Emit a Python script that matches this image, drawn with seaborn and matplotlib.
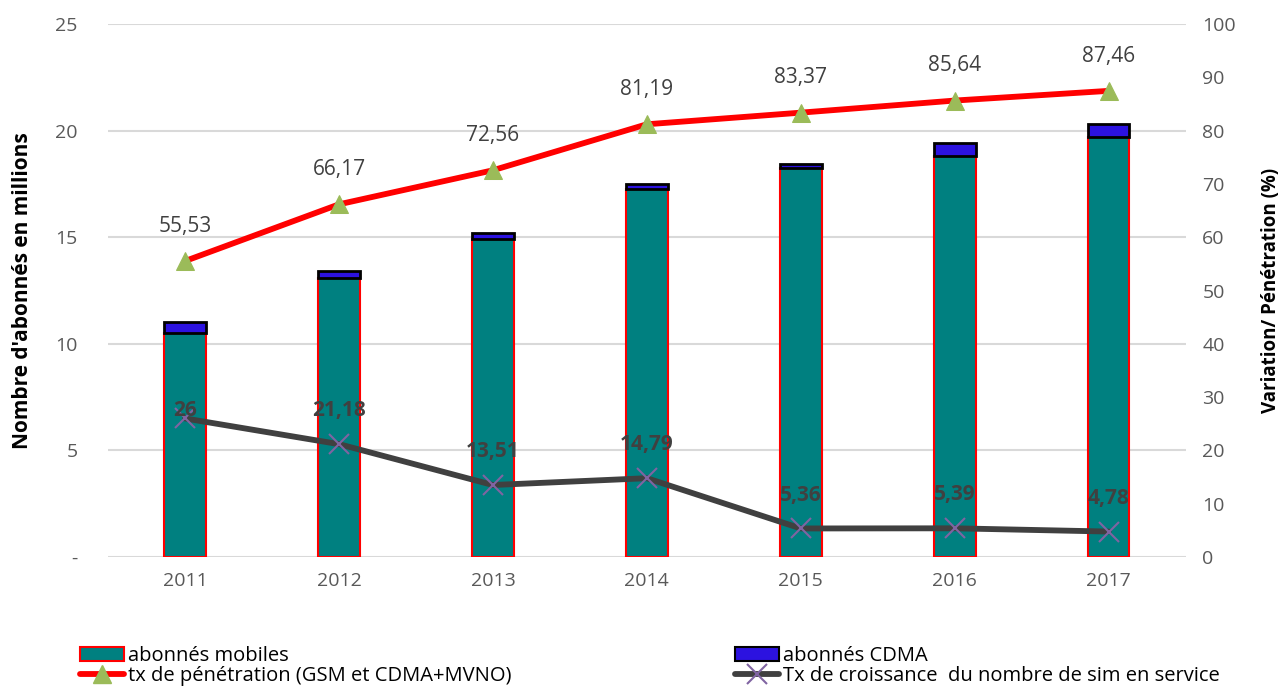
import numpy as np
import pandas as pd
import matplotlib
matplotlib.use("Agg")
import matplotlib.pyplot as plt
import seaborn as sns
from matplotlib.patches import Patch
from matplotlib.lines import Line2D

# données
annees = ['2011', '2012', '2013', '2014', '2015', '2016', '2017']
abonnes_mobiles = [10.50, 13.10, 14.92, 17.26, 18.23, 18.81, 19.71]
abonnes_cdma = [0.54, 0.31, 0.29, 0.24, 0.20, 0.62, 0.60]
tx_penetration = [55.53, 66.17, 72.56, 81.19, 83.37, 85.64, 87.46]
tx_croissance = [26, 21.18, 13.51, 14.79, 5.36, 5.39, 4.78]

sns.set_theme(style="white")
plt.rcParams['font.family'] = ['Open Sans', 'DejaVu Sans']

df = pd.DataFrame({'annee': annees, 'mobiles': abonnes_mobiles, 'cdma': abonnes_cdma})

fig = plt.figure(figsize=(12.79, 6.86), dpi=100)
ax = fig.add_axes([0.0845, 0.188, 0.8425, 0.777])

# barres empilées
sns.barplot(data=df, x='annee', y='mobiles', color='#008080', edgecolor='#ff0000',
            linewidth=1.5, width=0.27, saturation=1, ax=ax, zorder=2)
pos = np.arange(len(annees))
ax.bar(pos, df['cdma'], bottom=df['mobiles'], width=0.27, color='#2c12e0',
       edgecolor='black', linewidth=2, zorder=2)

ax.set_ylim(0, 25)
ax.set_xlim(-0.5, len(annees) - 0.5)
ax.set_yticks([0, 5, 10, 15, 20, 25])
ax.set_yticklabels(['-', '5', '10', '15', '20', '25'])
ax.yaxis.grid(True, color='#d9d9d9', linewidth=1.5, zorder=0)
ax.set_axisbelow(True)
for s in ax.spines.values():
    s.set_visible(False)
ax.tick_params(axis='both', length=0, labelsize=14, labelcolor='#595959')
ax.tick_params(axis='x', pad=11)
ax.tick_params(axis='y', pad=22)
ax.set_xlabel('')
ax.set_ylabel("Nombre d'abonnés en millions", fontsize=15, fontweight='bold',
              color='black', labelpad=16)

# courbes sur l'axe secondaire
ax2 = ax.twinx()
sns.lineplot(x=pos, y=tx_penetration, ax=ax2, color='#ff0000', linewidth=4.2,
             marker='^', markersize=13, markerfacecolor='#9bbb59',
             markeredgecolor='#9bbb59')
sns.lineplot(x=pos, y=tx_croissance, ax=ax2, color='#404040', linewidth=4.2,
             marker='x', markersize=14, markeredgecolor='#8064a2',
             markeredgewidth=1.5)
ax2.set_ylim(0, 100)
ax2.set_yticks(range(0, 101, 10))
for s in ax2.spines.values():
    s.set_visible(False)
ax2.tick_params(axis='y', length=0, labelsize=14, labelcolor='#595959', pad=12)
ax2.set_ylabel('Variation/ Pénétration (%)', fontsize=13.5, fontweight='bold',
               color='black', labelpad=18)

def fmt(v):
    return f"{v:g}".replace('.', ',')

for x, v in zip(pos, tx_penetration):
    ax2.annotate(fmt(v), (x, v), xytext=(0, 25), textcoords='offset points',
                 ha='center', va='center', fontsize=15, color='#404040')
off_croissance = [6, 24, 24, 24, 24, 24, 24]
for x, v, o in zip(pos, tx_croissance, off_croissance):
    ax2.annotate(fmt(v), (x, v), xytext=(0, o), textcoords='offset points',
                 ha='center', va='center', fontsize=15, fontweight='bold',
                 color='#404040')

# légende
handles = [
    Patch(facecolor='#008080', edgecolor='#ff0000', linewidth=1.5),
    Line2D([], [], color='#ff0000', linewidth=4.2, marker='^', markersize=13,
           markerfacecolor='#9bbb59', markeredgecolor='#9bbb59'),
    Patch(facecolor='#2c12e0', edgecolor='black', linewidth=1.5),
    Line2D([], [], color='#404040', linewidth=4.2, marker='x', markersize=14,
           markeredgecolor='#8064a2', markeredgewidth=1.5),
]
labels = ['abonnés mobiles', 'tx de pénétration (GSM et CDMA+MVNO)',
          'abonnés CDMA', 'Tx de croissance  du nombre de sim en service']
fig.legend(handles, labels, ncol=2, loc='lower left', bbox_to_anchor=(0.048, -0.026),
           frameon=False, fontsize=14.5, handlelength=2.2, handletextpad=0.2,
           columnspacing=11.1, labelspacing=0.0, labelcolor='black')

fig.savefig('out.png', dpi=100)
